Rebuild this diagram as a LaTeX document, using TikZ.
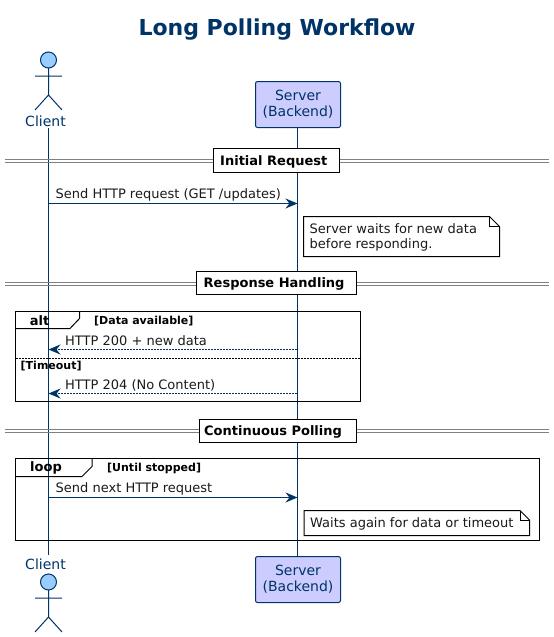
\documentclass[tikz,border=0pt]{standalone}
\usepackage{fontspec}
\setmainfont{DejaVu Sans}
\usetikzlibrary{arrows.meta}
\definecolor{navy}{HTML}{003366}
\definecolor{sky}{HTML}{99CCFF}
\definecolor{lilac}{HTML}{CCCCFF}
\definecolor{ink}{HTML}{1A1A1A}
\tikzset{
  >={Stealth[length=12pt,width=10pt,inset=4pt]},
  lifeline/.style={draw=navy,line width=1pt},
  call/.style={->,draw=navy,line width=1pt},
  reply/.style={->,draw=navy,line width=1pt,dash pattern=on 2pt off 1pt},
  msg/.style={anchor=base west,inner sep=0pt,text=ink,font=\fontsize{13}{15}\selectfont},
  player/.style={draw=navy,fill=lilac,rounded corners=2pt,line width=1pt,minimum width=85pt,
    minimum height=46pt,inner sep=0pt,align=center,text=navy,font=\fontsize{14}{16.3}\selectfont},
  who/.style={anchor=base,inner sep=0pt,text=navy,font=\fontsize{14}{16}\selectfont},
  sepbox/.style={draw=black,fill=white,line width=1pt,inner sep=0pt},
  seplabel/.style={anchor=base west,inner sep=0pt,text=black,font=\fontsize{13}{15}\selectfont\bfseries},
  sepline/.style={draw=gray,line width=1pt},
  frame/.style={draw=black,line width=1pt},
  kind/.style={anchor=base,inner sep=0pt,text=black,font=\fontsize{13}{15}\selectfont\bfseries},
  guard/.style={anchor=base west,inner sep=0pt,text=black,font=\fontsize{11}{13}\selectfont\bfseries},
  note/.style={draw=black,line width=1pt},
  pics/actor/.style={code={
    \draw[navy,fill=sky,line width=1pt] (0,0) circle (8);
    \draw[navy,line width=1pt] (0,8) -- (0,35) (-13.5,16) -- (13.5,16) (-13.5,50) -- (0,35) -- (13.5,50);
  }},
}
\begin{document}
\begin{tikzpicture}[x=1pt,y=-1pt]
  \useasboundingbox (0,0) rectangle (554,637);
  \node[anchor=base,inner sep=0pt,text=navy,font=\fontsize{22}{26}\selectfont\bfseries] (title) at (277,35) {Long Polling Workflow};
  % participants
  \pic at (48.5,60) {actor};
  \pic at (48.5,582) {actor};
  \node[who] (client top) at (45.5,126) {Client};
  \node[who] (client bottom) at (45.5,569) {Client};
  \node[player] (server top) at (298,104.5) {Server\\(Backend)};
  \node[player] (server bottom) at (298,579.5) {Server\\(Backend)};
  \coordinate (client a) at (48.5,128);
  \coordinate (client b) at (48.5,555);
  \draw[lifeline] (client a) -- (client b);
  \draw[lifeline] ([xshift=-0.5pt]server top.south) -- ([xshift=-0.5pt]server bottom.north);
  % dividers
  \foreach \y in {159.5,162.5,282.5,285.5,429.5,432.5} \draw[sepline] (5,\y) -- (549,\y);
  \node[sepbox,minimum width=126,minimum height=24] (initial) at (276.5,160.5) {};
  \node[seplabel] (initial text) at (220,165.7) {Initial Request};
  \node[sepbox,minimum width=160,minimum height=23] (response) at (276.5,283) {};
  \node[seplabel] (response text) at (203.5,287.7) {Response Handling};
  \node[sepbox,minimum width=157,minimum height=23] (polling) at (277.5,430.5) {};
  \node[seplabel] (polling text) at (204,435) {Continuous Polling};
  % first request
  \coordinate (c1) at (48.5,203.5); \coordinate (s1) at (297.5,203.5);
  \draw[call] (c1) -- (s1);
  \node[msg] (m1) at (55.5,198) {Send HTTP request (GET /updates)};
  \draw[note,fill=white] (303.5,216.5) -- (489.5,216.5) -- (499.5,226.5) -- (499.5,256.5) -- (303.5,256.5) -- cycle;
  \draw[note] (489.5,216.5) -- (489.5,226.5) -- (499.5,226.5);
  \node[msg] (n1a) at (309.5,233) {Server waits for new data};
  \node[msg] (n1b) at (309.5,248) {before responding.};
  % alt
  \draw[frame] (15.5,311.5) rectangle (360.5,401.5);
  \draw[frame] (15.5,328.5) -- (70,328.5) -- (79.5,318.5) -- (79.5,311.5);
  \node[kind] (alt) at (39.5,325) {alt};
  \node[guard] (alt guard) at (94,324.3) {[Data available]};
  \coordinate (s2) at (297,349.5); \coordinate (c2) at (48.5,349.5);
  \draw[reply] (s2) -- (c2);
  \node[msg] (m2) at (65,345) {HTTP 200 + new data};
  \draw[frame,dash pattern=on 2pt off 1pt] (15.5,358) -- (360.5,358);
  \node[guard] (alt else) at (20.5,369) {[Timeout]};
  \coordinate (s3) at (297,393.5); \coordinate (c3) at (48.5,393.5);
  \draw[reply] (s3) -- (c3);
  \node[msg] (m3) at (65,389) {HTTP 204 (No Content)};
  % loop
  \draw[frame] (15.5,458.5) rectangle (539.5,540.5);
  \draw[frame] (15.5,476.5) -- (82,476.5) -- (92,466.5) -- (92,458.5);
  \node[kind] (loop) at (46,471.7) {loop};
  \node[guard] (loop guard) at (107,471) {[Until stopped]};
  \coordinate (c4) at (48.5,497.5); \coordinate (s4) at (297.5,497.5);
  \draw[call] (c4) -- (s4);
  \node[msg] (m4) at (55.5,492.5) {Send next HTTP request};
  \draw[note,fill=white] (304,510.5) -- (520,510.5) -- (529.5,520) -- (529.5,535.5) -- (304,535.5) -- cycle;
  \draw[note] (520,510.5) -- (520,520) -- (529.5,520);
  \node[msg] (n2) at (310,527) {Waits again for data or timeout};
\end{tikzpicture}
\end{document}
